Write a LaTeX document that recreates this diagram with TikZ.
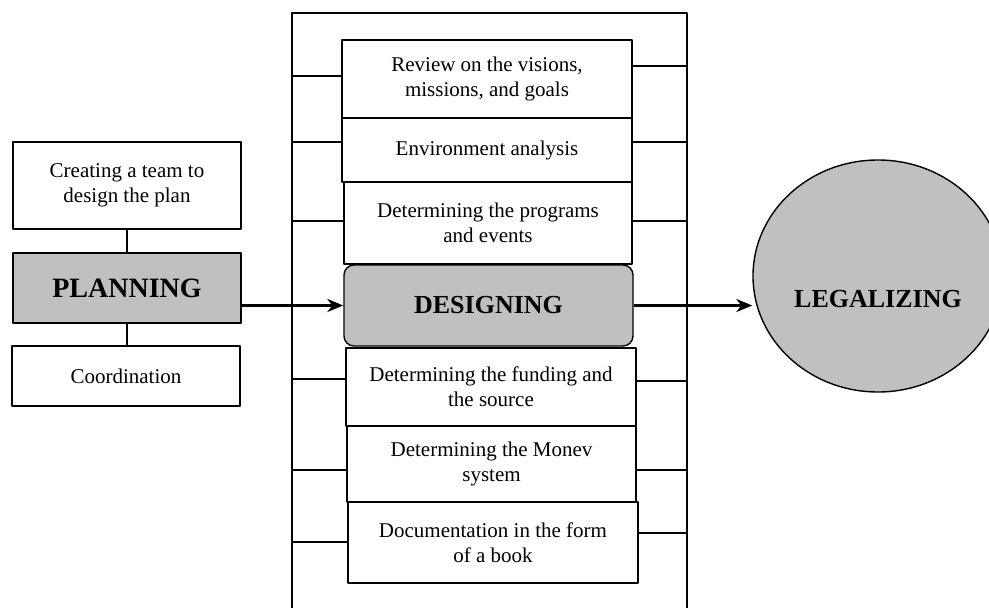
\documentclass[tikz,border=0pt]{standalone}
\usepackage{fontspec}
\setmainfont{Liberation Serif}
\usetikzlibrary{shapes.geometric,arrows.meta}
\definecolor{boxgray}{HTML}{C0C0C0}
\tikzset{
  stepbox/.style={draw, line width=1.4pt, align=center, inner sep=0pt,
    font=\fontsize{21}{25}\selectfont},
  mainbox/.style={stepbox, fill=boxgray, font=\fontsize{26}{30}\selectfont\bfseries},
  flow/.style={line width=2.8pt, -{Stealth[length=16pt,width=13pt,inset=5pt]}},
  tick/.style={line width=1.4pt}
}
\begin{document}
\begin{tikzpicture}[x=1pt, y=-1pt, line join=round]
  \useasboundingbox (0,0) rectangle (989,608);
  \clip (0,0) rectangle (989,608);
  % outer frame of the design stage
  \coordinate (fl) at (292,13);
  \coordinate (fr) at (687,13);
  \draw[tick] (292,620) -- (fl) -- (fr) -- (687,620);
  % planning stage
  \node[stepbox, minimum width=228pt, minimum height=87pt] (team) at (127,185.5) {Creating a team to\\design the plan};
  \node[mainbox, minimum width=228pt, minimum height=70pt, font=\fontsize{28}{32}\selectfont\bfseries] (plan) at (127,288) {PLANNING};
  \node[stepbox, minimum width=228pt, minimum height=60pt] (coord) at (126,376) {Coordination};
  \draw[tick] (team) -- (plan);
  \draw[tick] (plan) -- (plan |- coord.north);
  % design steps
  \node[stepbox, minimum width=290pt, minimum height=78pt] (review) at (487,79) {Review on the visions,\\missions, and goals};
  \node[stepbox, minimum width=290pt, minimum height=64pt] (env) at (487,150) {Environment analysis};
  \node[stepbox, minimum width=288pt, minimum height=82pt] (prog) at (488,223) {Determining the programs\\and events};
  \node[mainbox, minimum width=289pt, minimum height=81pt, rounded corners=10pt] (design) at (488.5,305.5) {DESIGNING};
  \node[stepbox, minimum width=290pt, minimum height=78pt] (fund) at (491,387) {Determining the funding and\\the source};
  \node[stepbox, minimum width=289pt, minimum height=76pt] (monev) at (491.5,464) {Determining the Monev\\system};
  \node[stepbox, minimum width=290pt, minimum height=81pt] (book) at (493,542.5) {Documentation in the form\\of a book};
  \foreach \b/\l/\r in {review/3pt/13pt, env/8pt/8pt, prog/2pt/2pt, fund/8pt/6pt, monev/-6pt/-6pt, book/0.5pt/9.5pt}{
    \path ([yshift=\l]\b.west) coordinate (tl) ([yshift=\r]\b.east) coordinate (tr);
    \draw[tick] (tl) -- (tl -| fl);
    \draw[tick] (tr) -- (tr -| fr);
  }
  % legalizing stage
  \node[ellipse, draw, line width=1.4pt, fill=boxgray, minimum width=250pt, minimum height=232pt,
    inner sep=0pt, text height=62pt, text depth=0pt, font=\fontsize{26}{30}\selectfont\bfseries] (legal) at (878,276) {LEGALIZING};
  \draw[flow] (plan.east |- design.west) -- (design.west);
  \draw[flow] (design.east) -- (design.east -| legal.west);
\end{tikzpicture}
\end{document}
